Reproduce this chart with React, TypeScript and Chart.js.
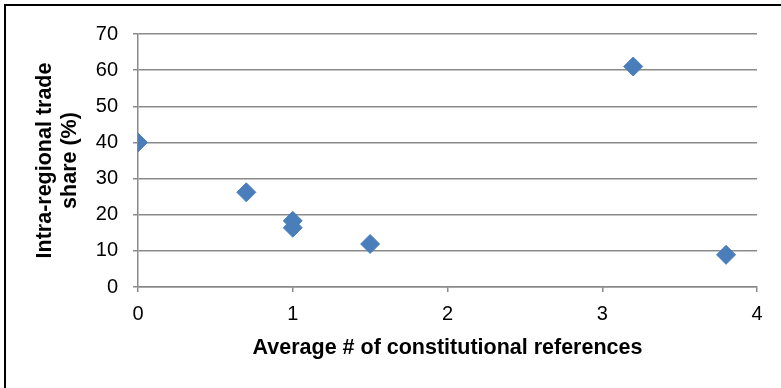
import React, { useEffect, useRef } from "react";
import { Chart, registerables } from "chart.js";

Chart.register(...registerables);

// Data
const xValues = [0, 0.7, 1, 1, 1.5, 3.2, 3.8];
const yValues = [40, 26.2, 18.3, 16.4, 11.9, 61, 8.9];
const xTitle = "Average # of constitutional references";
const yTitleLines = ["Intra-regional trade", "share (%)"];
const xMin = 0;
const xMax = 4;
const xStep = 1;
const yMin = 0;
const yMax = 70;
const yStep = 10;

const W = 781;
const H = 388;
const FONT = '"Liberation Sans", Arial, Helvetica, sans-serif';
const GRID = "#8a8a8a";
const BLUE = "#4a7ebb";

const titlePlugin = {
  id: "axisTitles",
  afterDraw(chart: any) {
    const { ctx, chartArea } = chart;
    ctx.save();
    ctx.fillStyle = "#000";
    ctx.font = `bold 21.5px ${FONT}`;
    ctx.textAlign = "center";
    ctx.textBaseline = "alphabetic";
    const cx = (chartArea.left + chartArea.right) / 2;
    ctx.fillText(xTitle, cx, 354);
    const cy = (chartArea.top + chartArea.bottom) / 2;
    ctx.translate(0, cy);
    ctx.rotate(-Math.PI / 2);
    ctx.fillText(yTitleLines[0], 0, 51);
    ctx.fillText(yTitleLines[1], 0, 76);
    ctx.restore();
  },
};

export default function App() {
  const ref = useRef<HTMLCanvasElement | null>(null);

  useEffect(() => {
    if (!ref.current) return;
    const points = xValues.map((x, i) => ({ x, y: yValues[i] }));
    const chart = new Chart(ref.current, {
      type: "scatter",
      data: {
        datasets: [
          {
            data: points,
            pointStyle: "rectRot",
            pointRadius: 9.5,
            pointBackgroundColor: BLUE,
            pointBorderColor: BLUE,
            pointBorderWidth: 1,
          },
        ],
      },
      options: {
        animation: false,
        responsive: false,
        maintainAspectRatio: false,
        layout: { padding: { left: 0, right: 24, top: 34, bottom: 0 } },
        plugins: {
          legend: { display: false },
          tooltip: { enabled: false },
        },
        scales: {
          x: {
            type: "linear",
            min: xMin,
            max: xMax,
            ticks: {
              stepSize: xStep,
              color: "#000",
              font: { family: FONT, size: 20 },
              padding: 10,
              maxRotation: 0,
            },
            grid: {
              drawOnChartArea: false,
              drawTicks: true,
              tickLength: 5,
              color: GRID,
              lineWidth: 1.5,
            },
            border: { display: true, color: GRID, width: 1.5 },
            afterFit(scale: any) {
              scale.height = H - 287;
            },
          },
          y: {
            type: "linear",
            min: yMin,
            max: yMax,
            ticks: {
              stepSize: yStep,
              color: "#000",
              font: { family: FONT, size: 20 },
              padding: 15,
            },
            grid: {
              drawOnChartArea: true,
              drawTicks: true,
              tickLength: 5,
              color: GRID,
              lineWidth: 1.5,
            },
            border: { display: true, color: GRID, width: 1.5 },
            afterFit(scale: any) {
              scale.width = 138;
            },
          },
        },
      },
      plugins: [titlePlugin],
    });
    return () => chart.destroy();
  }, []);

  return (
    <div
      style={{
        position: "fixed",
        left: 0,
        top: 0,
        width: W,
        height: H,
        overflow: "hidden",
        background: "#fff",
      }}
    >
      <canvas
        ref={ref}
        width={W}
        height={H}
        style={{ position: "absolute", left: 0, top: 0, width: W, height: H }}
      />
      <div
        style={{
          position: "absolute",
          left: 4,
          top: 4,
          width: W + 40,
          height: H + 40,
          border: "2px solid #000",
          boxSizing: "border-box",
          pointerEvents: "none",
        }}
      />
    </div>
  );
}
